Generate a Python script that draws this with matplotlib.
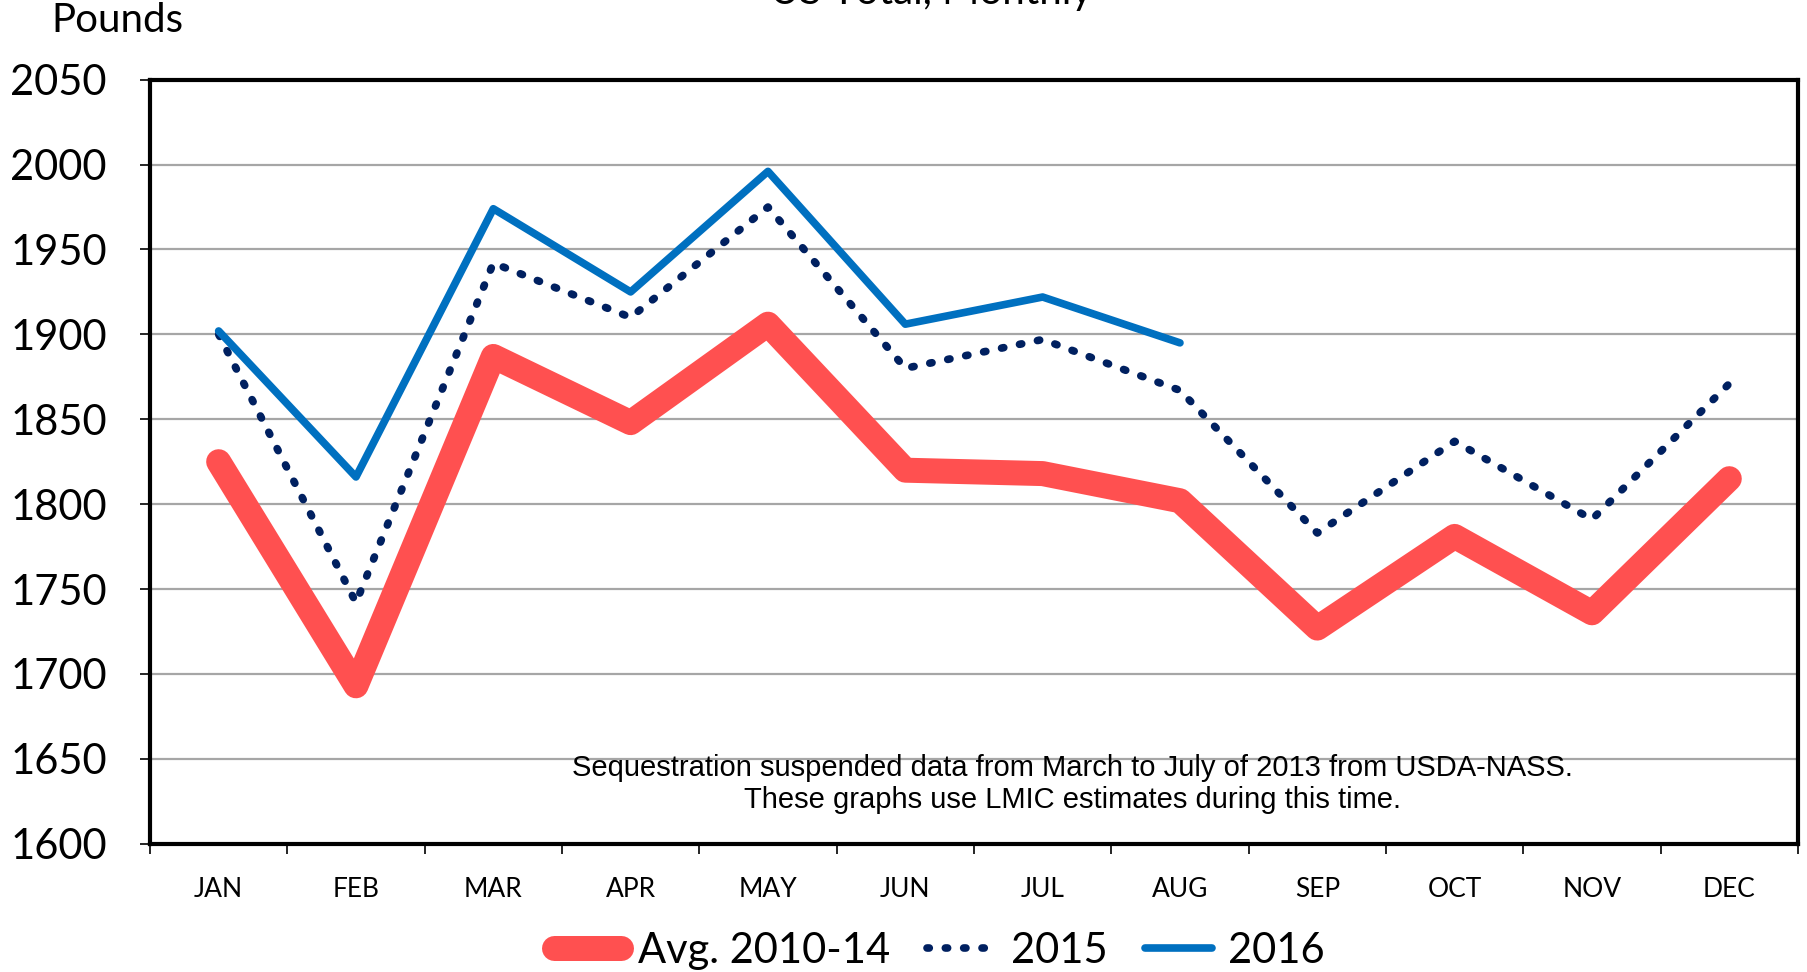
import matplotlib.pyplot as plt

# -- data --
months = ["JAN", "FEB", "MAR", "APR", "MAY", "JUN",
          "JUL", "AUG", "SEP", "OCT", "NOV", "DEC"]
avg_2010_14 = [1825, 1693, 1887, 1848, 1906, 1820, 1818, 1802, 1727, 1781, 1736, 1815]
y2015 = [1900, 1742, 1942, 1910, 1975, 1880, 1897, 1867, 1783, 1837, 1791, 1871]
y2016 = [1902, 1816, 1974, 1925, 1996, 1906, 1922, 1895]

x = list(range(len(months)))

fig = plt.figure(figsize=(18.07, 9.72), dpi=100)
ax = fig.add_axes([0.083, 0.132, 0.912, 0.786])

ax.plot(x, avg_2010_14, color="#FF5050", lw=18, solid_capstyle="round",
        solid_joinstyle="round", label="Avg. 2010-14", zorder=3)
ax.plot(x, y2015, color="#002060", lw=5.5, linestyle=(0, (0.3, 2.1)),
        dash_capstyle="round", label="2015", zorder=4)
ax.plot(x[:len(y2016)], y2016, color="#0070C0", lw=5.5, solid_capstyle="round",
        label="2016", zorder=5)

ax.set_xlim(-0.5, 11.5)
ax.set_ylim(1600, 2050)
ax.set_yticks(range(1600, 2051, 50))
ax.yaxis.grid(True, color="#A6A6A6", lw=1.6)
ax.set_axisbelow(True)

# month labels centred, tick marks between categories
ax.set_xticks(x)
ax.set_xticklabels(months, fontsize=19, family="Lato")
ax.set_xticks([i - 0.5 for i in range(13)], minor=True)
ax.tick_params(axis="x", which="major", length=0, pad=24)
ax.tick_params(axis="x", which="minor", length=7, width=1.2, direction="out")
ax.tick_params(axis="y", length=7, width=1.2, pad=24, labelsize=30)
for lab in ax.get_yticklabels():
    lab.set_family("Lato")

for s in ax.spines.values():
    s.set_linewidth(3)

ax.text(0.56, 0.078, "Sequestration suspended data from March to July of 2013 from USDA-NASS.\n"
        "These graphs use LMIC estimates during this time.",
        transform=ax.transAxes, ha="center", va="center", fontsize=21,
        family="Liberation Sans", linespacing=1.15)

fig.text(0.065, 1 - 21 / 972, "Pounds", ha="center", va="center", fontsize=29, family="Lato")
# title sits mostly above the top edge, as in the original
fig.text(0.515, 1 - 4 / 972, "US Total, Monthly", ha="center", va="baseline",
         fontsize=29, family="Lato")

leg = fig.legend(loc="center", bbox_to_anchor=(0.52, 0.022), ncol=3, frameon=False,
                 handlelength=1.6, handletextpad=0.4, columnspacing=0.9,
                 prop={"family": "Lato", "size": 30})

fig.savefig("out.png", dpi=100)
